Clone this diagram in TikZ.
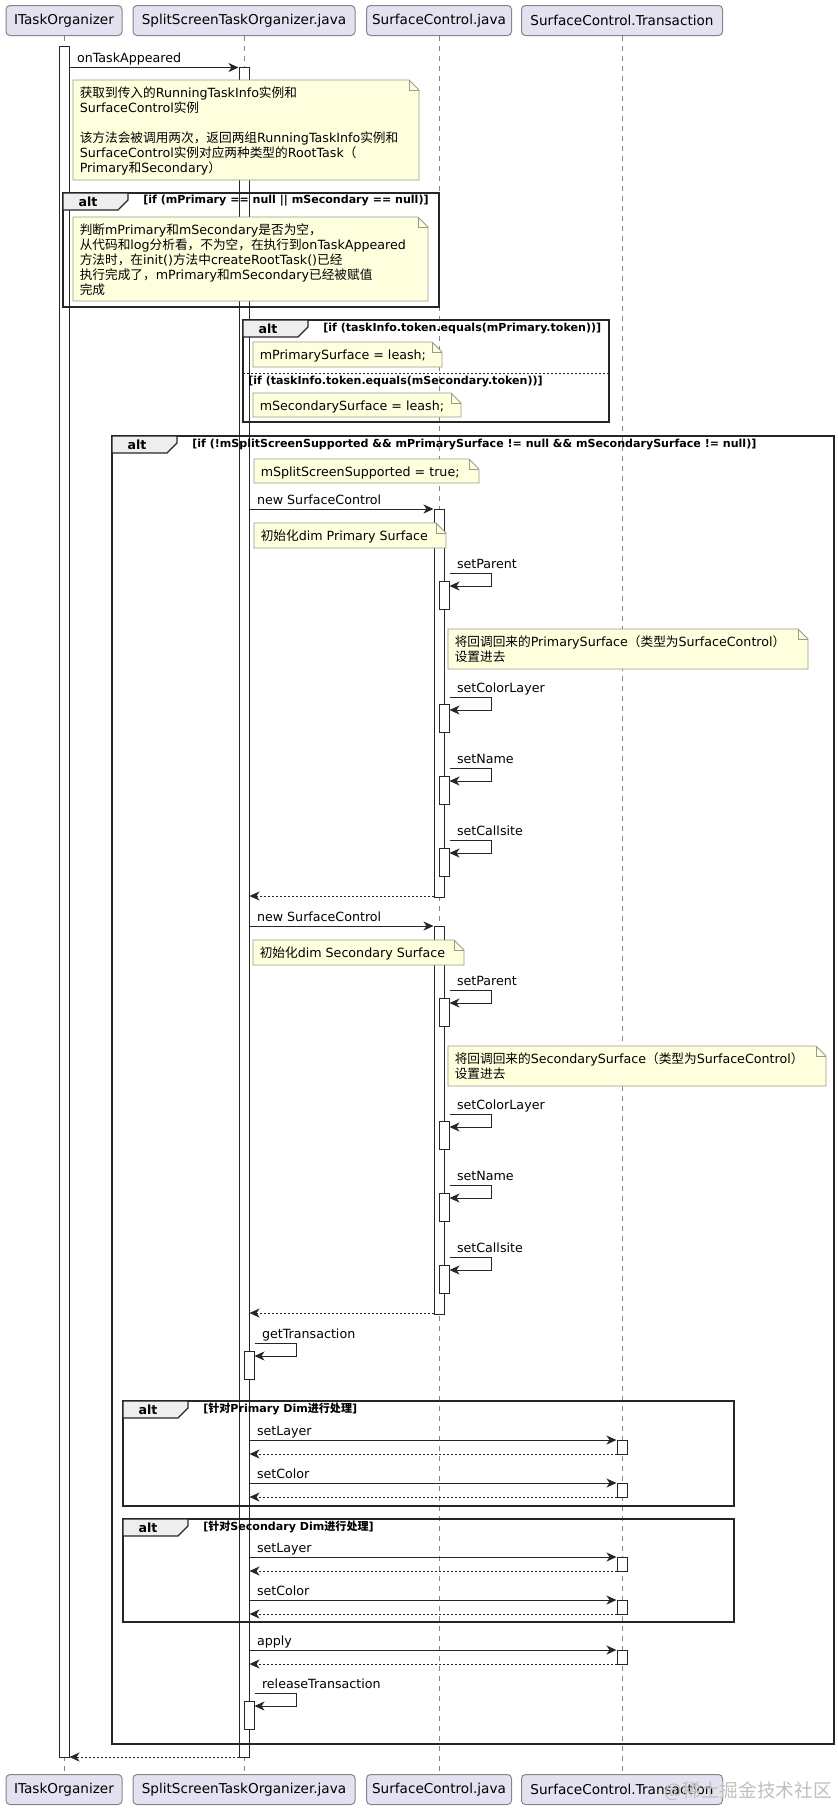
\documentclass[tikz,border=0pt]{standalone}
\usepackage{fontspec}
\setmainfont{DejaVu Sans}
\newfontfamily\cjk{Noto Sans CJK SC}
\usetikzlibrary{arrows.meta}

\definecolor{partfill}{HTML}{E2E2F0}
\definecolor{partline}{HTML}{85858F}
\definecolor{notefill}{HTML}{FEFFDD}
\definecolor{noteline}{HTML}{9A9A88}
\definecolor{tabfill}{HTML}{EEEEEE}

\newdimen\pxu \pxu=0.75pt

\begin{document}
\begin{tikzpicture}[x=0.75pt, y=-0.75pt]
    \newcommand{\zh}[1]{{\cjk #1}}
    \newcommand{\msgfont}{\fontsize{9.5}{11.25}\selectfont}

    % looks of the diagram
    \tikzset{
        part/.style={draw=partline, fill=partfill, rounded corners=3pt, line width=0.75pt,
            minimum height=30\pxu, inner sep=0pt, font=\fontsize{10.2}{12}\selectfont},
        life/.style={draw=partline, line width=0.6pt, dash pattern=on 3.75pt off 3.75pt},
        bar/.style={draw=black!85, fill=white, line width=0.75pt, minimum width=10\pxu, inner sep=0pt},
        call/.style={-{Stealth[length=7.5pt, width=6.75pt, inset=2.25pt]}, line width=0.75pt, draw=black!85},
        ret/.style={call, dash pattern=on 1.5pt off 1.5pt},
        lbl/.style={anchor=base west, inner sep=0pt, xshift=7\pxu, yshift=5\pxu, font=\msgfont},
        frame/.style={draw=black!85, line width=1.2pt},
        tab/.style={draw=black!85, fill=tabfill, line width=0.9pt},
        tabtxt/.style={inner sep=0pt, font=\bfseries\fontsize{9.45}{11}\selectfont},
        cond/.style={anchor=west, inner sep=0pt, font=\bfseries\fontsize{8.3}{9.9}\selectfont},
        notebg/.style={draw=noteline, fill=notefill, line width=0.6pt},
        notetxt/.style={anchor=north west, align=left, inner sep=0pt, font=\msgfont}
    }

    % activation bar: name, x, top, bottom
    \newcommand{\actbar}[4]{\node[bar, minimum height={(#4-#3)*\pxu}] (#1) at (#2,{(#3+#4)/2}) {};}
    % self call: bar, top, bottom, label
    \newcommand{\selfcall}[4]{\draw[call] (#1.east |- 0,#2) node[lbl] {#4} -- ++(42,0) -- ++(0,13) -- (#1.east |- 0,#3);}
    % note with folded corner: name, x1, y1, x2, y2, text
    \newcommand{\memo}[6]{%
        \filldraw[notebg] (#2,#3) -- ({#4-10},#3) -- (#4,{#3+10}) -- (#4,#5) -- (#2,#5) -- cycle;
        \draw[notebg, fill=none] ({#4-10},#3) -- ({#4-10},{#3+10}) -- (#4,{#3+10});
        \node[notetxt] (#1) at ({#2+6.5},{#3+5}) {\rule{0pt}{12\pxu}#6};}
    % alt frame: name, x1, y1, x2, y2, condition
    \newcommand{\altbox}[6]{%
        \draw[frame] (#2,#3) rectangle (#4,#5);
        \filldraw[tab] (#2,#3) -- ({#2+65},#3) -- ({#2+65},{#3+7}) -- ({#2+55},{#3+17}) -- (#2,{#3+17}) -- cycle;
        \node[tabtxt] at ({#2+25},{#3+9}) {alt};
        \node[cond] (#1) at ({#2+80},{#3+8}) {#6};}

    \useasboundingbox (0,0) rectangle (838,1810);

    % participants
    \node[part, minimum width=116\pxu] (ito)  at (64,20.5)  {ITaskOrganizer};
    \node[part, minimum width=222\pxu] (ssto) at (244,20.5) {SplitScreenTaskOrganizer.java};
    \node[part, minimum width=145\pxu] (scj)  at (439,20.5) {SurfaceControl.java};
    \node[part, minimum width=201\pxu] (sct)  at (622,20.5) {SurfaceControl.Transaction};
    \node[part, minimum width=116\pxu] (itoF)  at (64,1789.5)  {ITaskOrganizer};
    \node[part, minimum width=222\pxu] (sstoF) at (244,1789.5) {SplitScreenTaskOrganizer.java};
    \node[part, minimum width=145\pxu] (scjF)  at (439,1789.5) {SurfaceControl.java};
    \node[part, minimum width=201\pxu] (sctF)  at (622,1789.5) {SurfaceControl.Transaction};

    % lifelines
    \draw[life] (ito.south) -- (itoF.north);
    \draw[life] (ssto.south) -- (sstoF.north);
    \draw[life] (scj.south) -- (scjF.north);
    \draw[life] (sct.south) -- (sctF.north);

    % activations
    \actbar{itoA}{64}{46}{1757}
    \actbar{sstoA}{244}{67.5}{1757}
    \actbar{scA1}{439}{509}{897}
    \actbar{scP1}{444}{581}{609}
    \actbar{scC1}{444}{704}{732}
    \actbar{scN1}{444}{776}{804}
    \actbar{scS1}{444}{848}{876}
    \actbar{scA2}{439}{926}{1314}
    \actbar{scP2}{444}{998}{1026}
    \actbar{scC2}{444}{1121}{1149}
    \actbar{scN2}{444}{1193}{1221}
    \actbar{scS2}{444}{1265}{1293}
    \actbar{sstoT}{249}{1351}{1379}
    \actbar{sctL1}{622}{1440}{1454}
    \actbar{sctC1}{622}{1483}{1497}
    \actbar{sctL2}{622}{1557}{1571}
    \actbar{sctC2}{622}{1600}{1614}
    \actbar{sctP}{622}{1650}{1664}
    \actbar{sstoR}{249}{1701}{1729}

    % groups
    \altbox{c1}{63}{193}{439}{307}{[if (mPrimary == null || mSecondary == null)]}
    \altbox{c2}{243}{320}{609}{422}{[if (taskInfo.token.equals(mPrimary.token))]}
    \draw[draw=black!85, line width=0.6pt, dash pattern=on 1.5pt off 1.5pt] (243,373) -- (609,373);
    \node[cond] (c2e) at (248,381) {[if (taskInfo.token.equals(mSecondary.token))]};
    \altbox{c3}{112}{436}{834}{1744}{[if (!mSplitScreenSupported \&\& mPrimarySurface != null \&\& mSecondarySurface != null)]}
    \altbox{c4}{123}{1401}{734}{1506}{[\zh{针对}Primary Dim\zh{进行处理}]}
    \altbox{c5}{123}{1519}{734}{1622}{[\zh{针对}Secondary Dim\zh{进行处理}]}

    % messages
    \draw[call] (itoA.east |- 0,67.5) node[lbl] {onTaskAppeared} -- (sstoA.west |- 0,67.5);

    % primary dim surface
    \draw[call] (sstoA.east |- 0,509) node[lbl] {new SurfaceControl} -- (scA1.west |- 0,509);
    \selfcall{scP1}{573}{586}{setParent}
    \selfcall{scC1}{697}{710}{setColorLayer}
    \selfcall{scN1}{768}{781}{setName}
    \selfcall{scS1}{840}{853}{setCallsite}
    \draw[ret] (scA1.west |- 0,896) -- (sstoA.east |- 0,896);

    % secondary dim surface
    \draw[call] (sstoA.east |- 0,926) node[lbl] {new SurfaceControl} -- (scA2.west |- 0,926);
    \selfcall{scP2}{990}{1003}{setParent}
    \selfcall{scC2}{1114}{1127}{setColorLayer}
    \selfcall{scN2}{1185}{1198}{setName}
    \selfcall{scS2}{1257}{1270}{setCallsite}
    \draw[ret] (scA2.west |- 0,1313) -- (sstoA.east |- 0,1313);

    % transaction
    \selfcall{sstoT}{1343}{1356}{getTransaction}
    \draw[call] (sstoA.east |- 0,1440) node[lbl] {setLayer} -- (sctL1.west |- 0,1440);
    \draw[ret] (sctL1.west |- 0,1454) -- (sstoA.east |- 0,1454);
    \draw[call] (sstoA.east |- 0,1483) node[lbl] {setColor} -- (sctC1.west |- 0,1483);
    \draw[ret] (sctC1.west |- 0,1497) -- (sstoA.east |- 0,1497);
    \draw[call] (sstoA.east |- 0,1557) node[lbl] {setLayer} -- (sctL2.west |- 0,1557);
    \draw[ret] (sctL2.west |- 0,1571) -- (sstoA.east |- 0,1571);
    \draw[call] (sstoA.east |- 0,1600) node[lbl] {setColor} -- (sctC2.west |- 0,1600);
    \draw[ret] (sctC2.west |- 0,1614) -- (sstoA.east |- 0,1614);
    \draw[call] (sstoA.east |- 0,1650) node[lbl] {apply} -- (sctP.west |- 0,1650);
    \draw[ret] (sctP.west |- 0,1664) -- (sstoA.east |- 0,1664);
    \selfcall{sstoR}{1693}{1706}{releaseTransaction}
    \draw[ret] (sstoA.west |- 0,1757) -- (itoA.east |- 0,1757);

    % notes
    \memo{nA}{73}{80}{419}{180}{\zh{获取到传入的}RunningTaskInfo\zh{实例和}\\SurfaceControl\zh{实例}\\[11.25pt]\zh{该方法会被调用两次，返回两组}RunningTaskInfo\zh{实例和}\\SurfaceControl\zh{实例对应两种类型的}RootTask\zh{（}\\Primary\zh{和}Secondary\zh{）}}
    \memo{nB}{73}{217}{428}{301}{\zh{判断}mPrimary\zh{和}mSecondary\zh{是否为空，}\\\zh{从代码和}log\zh{分析看，不为空，在执行到}onTaskAppeared\\\zh{方法时，在}init()\zh{方法中}createRootTask()\zh{已经}\\\zh{执行完成了，}mPrimary\zh{和}mSecondary\zh{已经被赋值}\\\zh{完成}}
    \memo{nC}{253}{342}{442}{367}{mPrimarySurface = leash;}
    \memo{nD}{253}{393}{461}{417}{mSecondarySurface = leash;}
    \memo{nE}{254}{459}{479}{483}{mSplitScreenSupported = true;}
    \memo{nF}{254}{523}{446}{548}{\zh{初始化}dim Primary Surface}
    \memo{nG}{448}{629}{808}{669}{\zh{将回调回来的}PrimarySurface\zh{（类型为}SurfaceControl\zh{）}\\\zh{设置进去}}
    \memo{nH}{253}{940}{464}{965}{\zh{初始化}dim Secondary Surface}
    \memo{nI}{448}{1046}{826}{1086}{\zh{将回调回来的}SecondarySurface\zh{（类型为}SurfaceControl\zh{）}\\\zh{设置进去}}

    % watermark
    \node[anchor=east, inner sep=0pt, text=gray!50, font=\cjk\fontsize{14}{16}\selectfont] (wm) at (832,1791) {@稀土掘金技术社区};
\end{tikzpicture}
\end{document}
